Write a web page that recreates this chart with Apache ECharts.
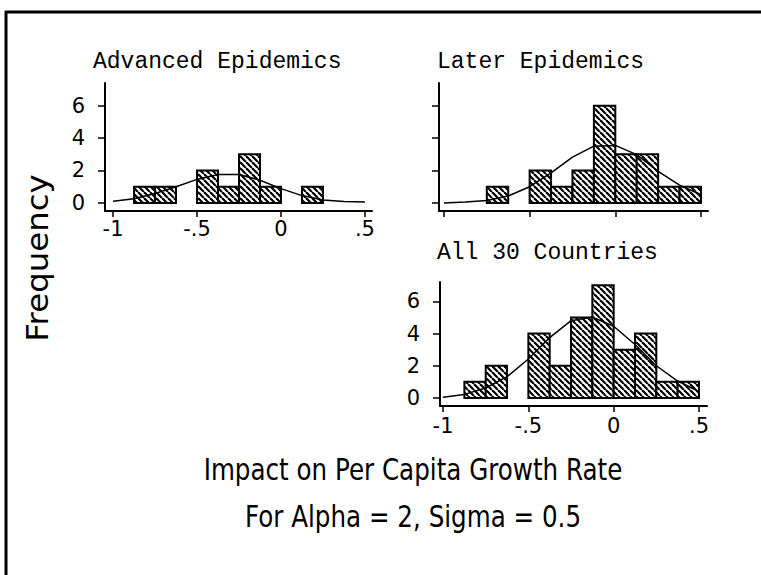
<!DOCTYPE html>
<html>
<head>
<meta charset="utf-8">
<script src="https://cdn.jsdelivr.net/npm/echarts@6/dist/echarts.min.js"></script>
<style>
html, body { margin: 0; padding: 0; background: #fff; }
#chart { width: 761px; height: 575px; }
</style>
</head>
<body>
<div id="chart"></div>
<script>
// Histogram bin edges: impact on per-capita growth rate
const binEdges = [-0.875, -0.75, -0.625, -0.5, -0.375, -0.25, -0.125, 0, 0.125, 0.25, 0.375, 0.5];

// Number of countries in each bin
const advancedCounts = [1, 1, 0, 2, 1, 3, 1, 0, 1, 0, 0];
const laterCounts    = [0, 1, 0, 2, 1, 2, 6, 3, 3, 1, 1];
const allCounts      = [1, 2, 0, 4, 2, 5, 7, 3, 4, 1, 1];

// Overlaid normal density curves (in frequency units)
const curveX        = [-1, -0.875, -0.75, -0.625, -0.5, -0.375, -0.25, -0.125, 0, 0.125, 0.25, 0.375, 0.5];
const advancedCurve = [0.1, 0.26, 0.58, 1.0, 1.45, 1.75, 1.75, 1.4, 0.88, 0.45, 0.18, 0.08, 0.05];
const laterCurve    = [0, 0.05, 0.15, 0.42, 1.0, 1.85, 2.82, 3.5, 3.55, 2.98, 1.95, 1.1, 0.5];
const allCurve      = [0.05, 0.22, 0.62, 1.32, 2.42, 3.75, 4.8, 5.02, 4.45, 3.32, 2.0, 1.05, 0.4];

// Axis ticks
const xTicks = [-1, -0.5, 0, 0.5];
const xTickLabels = ['-1', '-.5', '0', '.5'];
const yTicks = [0, 2, 4, 6];
const yTickLabels = ['0', '2', '4', '6'];

const panelTitles = ['Advanced Epidemics', 'Later Epidemics', 'All 30 Countries'];
const yAxisTitle = 'Frequency';
const xAxisTitle = 'Impact on Per Capita Growth Rate';
const subTitle = 'For Alpha = 2, Sigma = 0.5';

// Diagonal hatch tile for the bars
function makeHatch(p, lw) {
  const c = document.createElement('canvas');
  c.width = p; c.height = p;
  const g = c.getContext('2d');
  g.fillStyle = '#fff';
  g.fillRect(0, 0, p, p);
  g.strokeStyle = '#000';
  g.lineWidth = lw;
  for (let k = -1; k <= 1; k++) {
    g.beginPath();
    g.moveTo(k * p, 0);
    g.lineTo(k * p + p, p);
    g.stroke();
  }
  return c;
}
const hatch = { image: makeHatch(6, 2.2), repeat: 'repeat' };

const FONT_MONO = "'Liberation Mono', 'DejaVu Sans Mono', monospace";
const FONT_SANS = "'DejaVu Sans', 'Liberation Sans', sans-serif";

const panels = [
  { grid: { left: 105, top: 83, width: 267, height: 128 }, xMin: -1.048, xMax: 0.542, yMax: 7.4, counts: advancedCounts, curve: advancedCurve, xLabels: true, labelMargin: 7 },
  { grid: { left: 439, top: 83, width: 269, height: 128 }, xMin: -1.029, xMax: 0.541, yMax: 7.4, counts: laterCounts, curve: laterCurve, xLabels: false, labelMargin: 7 },
  { grid: { left: 440, top: 282, width: 267, height: 124 }, xMin: -1.018, xMax: 0.547, yMax: 7.2, counts: allCounts, curve: allCurve, xLabels: true, labelMargin: 9 }
];

const axisLine = { show: true, onZero: false, lineStyle: { color: '#000', width: 2 } };

const grids = [], xAxes = [], yAxes = [], series = [];
panels.forEach((p, i) => {
  grids.push(Object.assign({ containLabel: false }, p.grid));
  xAxes.push({
    type: 'value', gridIndex: i, min: p.xMin, max: p.xMax,
    axisLine: axisLine,
    axisTick: { show: true, customValues: xTicks, length: 6, lineStyle: { color: '#000', width: 1.5 } },
    axisLabel: {
      show: p.xLabels, customValues: xTicks, margin: p.labelMargin,
      color: '#000', fontSize: 21, fontFamily: FONT_SANS,
      formatter: v => xTickLabels[xTicks.indexOf(v)]
    },
    splitLine: { show: false }
  });
  yAxes.push({
    type: 'value', gridIndex: i, min: -0.5, max: p.yMax,
    axisLine: axisLine,
    axisTick: { show: true, customValues: yTicks, length: 7, lineStyle: { color: '#000', width: 1.5 } },
    axisLabel: {
      show: i !== 1, customValues: yTicks, margin: 20,
      color: '#000', fontSize: 21, fontFamily: FONT_SANS,
      formatter: v => yTickLabels[yTicks.indexOf(v)]
    },
    splitLine: { show: false }
  });
  series.push({
    type: 'custom', xAxisIndex: i, yAxisIndex: i,
    data: p.counts.map((c, k) => [binEdges[k], binEdges[k + 1], c]),
    renderItem: (params, api) => {
      const c = api.value(2);
      if (!c) return null;
      const a = api.coord([api.value(0), 0]);
      const b = api.coord([api.value(1), c]);
      return {
        type: 'rect',
        shape: { x: a[0], y: b[1], width: b[0] - a[0], height: a[1] - b[1] },
        style: { fill: hatch, stroke: '#000', lineWidth: 2 }
      };
    },
    z: 2
  });
  series.push({
    type: 'line', xAxisIndex: i, yAxisIndex: i,
    data: curveX.map((x, k) => [x, p.curve[k]]),
    showSymbol: false, symbol: 'none',
    lineStyle: { color: '#000', width: 1.5 },
    z: 3
  });
});

const textEl = (txt, x, y, size, family, align, extra) => Object.assign({
  type: 'text', x: x, y: y,
  style: { text: txt, fill: '#000', font: size + 'px ' + family, textAlign: align, textVerticalAlign: 'middle' }
}, extra || {});

const graphics = [
  { type: 'line', shape: { x1: 5, y1: 12, x2: 761, y2: 12 }, style: { stroke: '#000', lineWidth: 3 } },
  { type: 'line', shape: { x1: 6, y1: 11, x2: 6, y2: 575 }, style: { stroke: '#000', lineWidth: 3 } },
  textEl(panelTitles[0], 93, 62, 23, FONT_MONO, 'left'),
  textEl(panelTitles[1], 437, 62, 23, FONT_MONO, 'left'),
  textEl(panelTitles[2], 437, 253, 23, FONT_MONO, 'left'),
  textEl(yAxisTitle, 37, 258, 30, FONT_SANS, 'center', { rotation: Math.PI / 2, scaleX: 1.08 }),
  textEl(xAxisTitle, 413, 470, 30, FONT_SANS, 'center', { scaleX: 0.82 }),
  textEl(subTitle, 413, 517, 30, FONT_SANS, 'center', { scaleX: 0.82 })
];

const chart = echarts.init(document.getElementById('chart'), null, { renderer: 'svg' });
chart.setOption({
  animation: false,
  backgroundColor: '#fff',
  grid: grids,
  xAxis: xAxes,
  yAxis: yAxes,
  series: series,
  graphic: graphics
});
</script>
</body>
</html>
